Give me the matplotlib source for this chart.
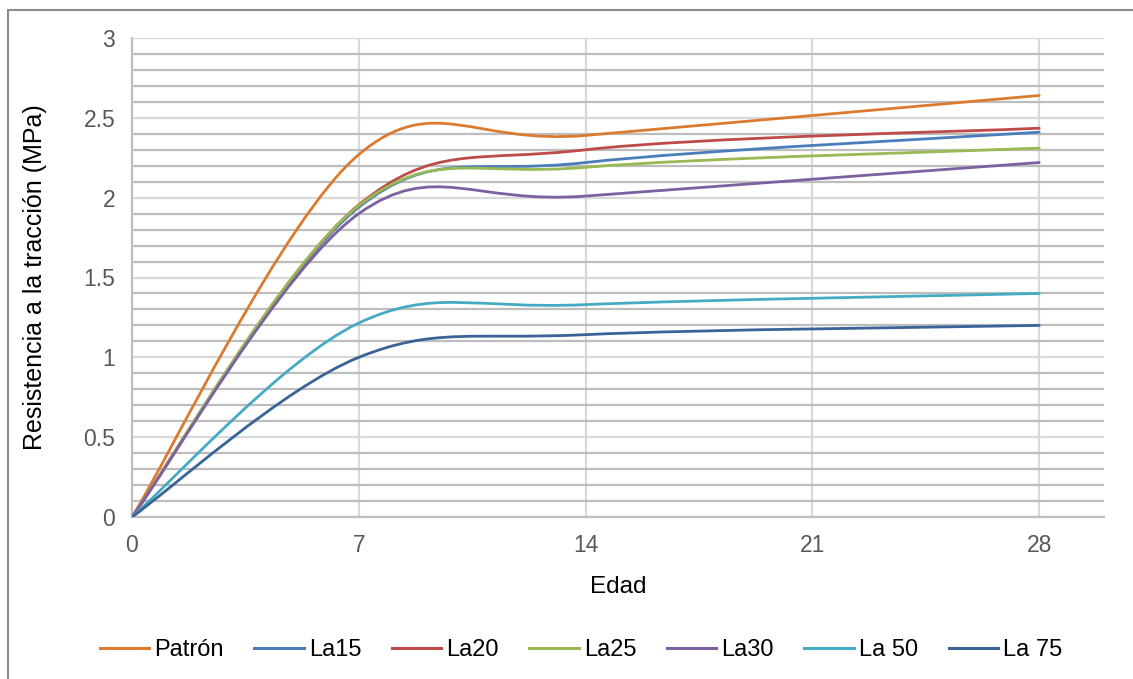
import numpy as np
import matplotlib.pyplot as plt
from matplotlib.path import Path
from matplotlib.patches import PathPatch, Rectangle
from matplotlib.lines import Line2D

plt.rcParams['font.family'] = ['Liberation Sans', 'DejaVu Sans']

# edad (dias) y resistencia a la traccion (MPa)
edad = [0, 7, 14, 28]
series = ["Patrón", "La15", "La20", "La25", "La30", "La 50", "La 75"]
patron = [0, 2.27, 2.39, 2.64]
la15 = [0, 1.94, 2.22, 2.41]
la20 = [0, 1.955, 2.30, 2.435]
la25 = [0, 1.95, 2.19, 2.31]
la30 = [0, 1.90, 2.01, 2.22]
la50 = [0, 1.215, 1.33, 1.40]
la75 = [0, 1.00, 1.142, 1.20]
valores = [patron, la15, la20, la25, la30, la50, la75]
colores = ["#DB7B30", "#4A7EBB", "#BE4B48", "#98B954", "#7D60A0", "#46AAC5", "#3A6398"]


def curva_suave(x, y):
    # suavizado tipo Excel: Bezier con tangentes (P[i+1]-P[i-1])/6
    p = np.column_stack([x, y]).astype(float)
    n = len(p)
    verts = [p[0]]
    codes = [Path.MOVETO]
    for i in range(n - 1):
        a = p[i - 1] if i > 0 else p[i]
        b, c = p[i], p[i + 1]
        d = p[i + 2] if i + 2 < n else p[i + 1]
        verts += [b + (c - a) / 6, c - (d - b) / 6, c]
        codes += [Path.CURVE4] * 3
    return Path(verts, codes)


fig = plt.figure(figsize=(11.33, 6.79), dpi=100)
ax = fig.add_axes([132 / 1133, 1 - 517 / 679, (1104 - 132) / 1133, (517 - 38) / 679])

# borde del area del grafico
fig.patches.append(Rectangle((8 / 1133, -0.1), 1.2, 1.1 - 10 / 679,
                             transform=fig.transFigure, fill=False,
                             edgecolor="#8C8C8C", lw=1.5))

ax.set_xlim(0, 30)
ax.set_ylim(0, 3)
ax.set_xticks([0, 7, 14, 21, 28])
ax.set_yticks(np.arange(0, 3.01, 0.5))
ax.set_yticklabels(["0", "0.5", "1", "1.5", "2", "2.5", "3"])
ax.set_yticks(np.arange(0, 3.01, 0.1), minor=True)
ax.grid(True, which="minor", axis="y", color="#BDBDBD", lw=1.6, zorder=0)
ax.grid(True, which="major", axis="y", color="#D9D9D9", lw=1.6, zorder=0)
ax.grid(True, which="major", axis="x", color="#D9D9D9", lw=1.6, zorder=0)
ax.tick_params(which="both", length=0, labelsize=16.5, labelcolor="#595959")
ax.tick_params(axis="y", pad=12)
ax.tick_params(axis="x", pad=12)
for s in ["top", "right"]:
    ax.spines[s].set_visible(False)
ax.spines["left"].set_color("#BFBFBF")
ax.spines["bottom"].set_color("#BFBFBF")
ax.spines["left"].set_linewidth(1.6)
ax.spines["bottom"].set_linewidth(1.6)
ax.set_axisbelow(True)

for v, c in zip(valores, colores):
    ax.add_patch(PathPatch(curva_suave(edad, v), fill=False, edgecolor=c,
                           lw=2.0, zorder=3, capstyle="round"))

ax.set_xlabel("Edad", fontsize=17.5, labelpad=14)
ax.set_ylabel("Resistencia a la tracción (MPa)", fontsize=18, labelpad=26)

handles = [Line2D([], [], color=c, lw=2.2) for c in colores]
fig.legend(handles, series, loc="center", bbox_to_anchor=(581 / 1133, 1 - 650 / 679),
           ncol=7, frameon=False, fontsize=17, handlelength=2.1,
           handletextpad=0.2, columnspacing=1.3)

fig.savefig("out.png", dpi=100)
